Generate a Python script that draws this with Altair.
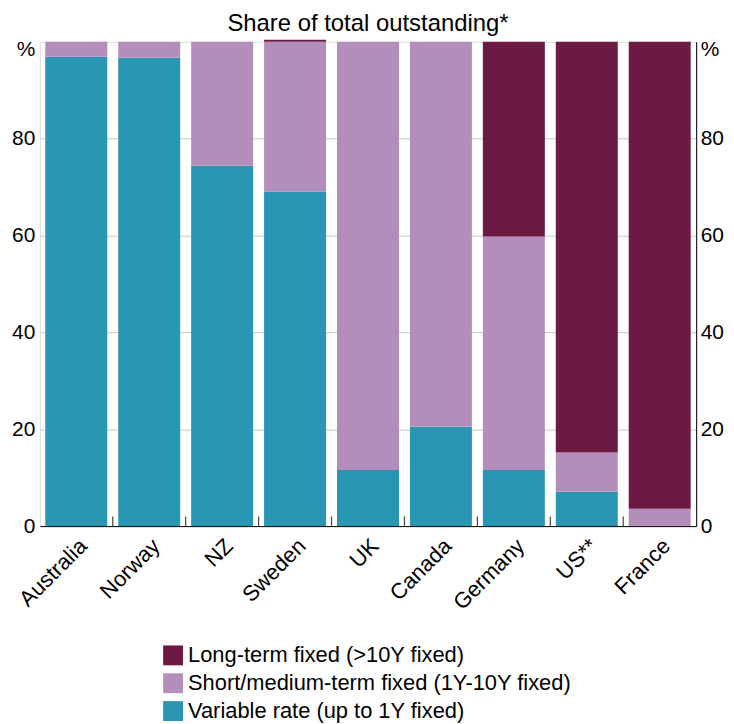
import altair as alt
import pandas as pd

countries = ["Australia", "Norway", "NZ", "Sweden", "UK", "Canada", "Germany", "US**", "France"]
variable_rate = [96.9, 96.7, 74.4, 69.1, 11.6, 20.5, 11.6, 7.1, 0.0]
short_medium = [3.1, 3.3, 25.6, 30.9, 88.4, 79.5, 48.2, 8.1, 3.6]
long_term = [0.0, 0.0, 0.0, 0.4, 0.0, 0.0, 40.2, 84.8, 96.4]
series = [
    "Long-term fixed (>10Y fixed)",
    "Short/medium-term fixed (1Y-10Y fixed)",
    "Variable rate (up to 1Y fixed)",
]
colors = ["#6C1A41", "#B48EBB", "#2A96B4"]
y_ticks = [0, 20, 40, 60, 80, 100]

rows = []
for i, c in enumerate(countries):
    for s, vals, o in [(series[2], variable_rate, 0), (series[1], short_medium, 1), (series[0], long_term, 2)]:
        rows.append({"country": c, "series": s, "value": vals[i], "ord": o})
df = pd.DataFrame(rows)

tick_df = pd.DataFrame({"country": countries[1:], "y0": [0] * 8, "y1": [2] * 8})

FONT = "Liberation Sans"
xscale = alt.Scale(domain=countries, paddingInner=0.15, paddingOuter=0.075)
yscale = alt.Scale(domain=[0, 100], nice=False)
label_expr = "datum.value == 100 ? '%' : datum.label"
label_off = {"condition": {"test": "datum.value == 100", "value": 8}, "value": 0}

bars = alt.Chart(df).mark_bar(clip=False).encode(
    x=alt.X("country:N", scale=xscale, sort=countries,
            axis=alt.Axis(title=None, orient="bottom", labelAngle=-45, ticks=False,
                          domain=True, domainColor="black", domainWidth=1, zindex=1,
                          labelFontSize=22, labelFont=FONT, labelColor="black",
                          labelPadding=9)),
    y=alt.Y("value:Q", stack="zero", scale=yscale,
            axis=alt.Axis(title=None, orient="left", values=y_ticks, grid=True,
                          gridColor="#c8c8c8", gridWidth=1,
                          gridOpacity={"condition": {"test": "datum.value == 0 || datum.value == 100", "value": 0}, "value": 1},
                          ticks=False, domain=False, labelExpr=label_expr,
                          labelOffset=label_off, labelFontSize=21, labelFont=FONT,
                          labelColor="black", labelPadding=5)),
    color=alt.Color("series:N", scale=alt.Scale(domain=series, range=colors),
                    legend=alt.Legend(title=None, orient="none", legendX=123, legendY=606,
                                      direction="vertical", symbolType="square",
                                      symbolSize=400, symbolStrokeWidth=0,
                                      symbolOpacity=1, labelFontSize=22, labelFont=FONT,
                                      labelColor="black", rowPadding=6, labelOffset=4,
                                      padding=0, labelLimit=600)),
    order=alt.Order("ord:Q", sort="ascending"),
)

ticks = alt.Chart(tick_df).mark_rule(color="#444444", strokeWidth=1.2, xOffset=-5.5).encode(
    x=alt.X("country:N", scale=xscale, sort=countries, bandPosition=0),
    y=alt.Y("y0:Q", scale=yscale,
            axis=alt.Axis(title=None, orient="right", values=y_ticks, grid=False,
                          ticks=False, domain=True, domainColor="black", domainWidth=1,
                          zindex=1, labelExpr=label_expr, labelOffset=label_off,
                          labelFontSize=21, labelFont=FONT, labelColor="black",
                          labelPadding=4)),
    y2="y1:Q",
)

chart = alt.layer(bars, ticks).resolve_axis(y="independent").properties(
    width=660,
    height=487,
    autosize=alt.AutoSizeParams(type="none"),
    padding={"left": 32, "top": 32, "right": 30, "bottom": 197},
    title=alt.TitleParams(text="Share of total outstanding*", fontSize=24, font=FONT,
                          fontWeight="normal", color="black", anchor="middle",
                          offset=3),
).configure_view(stroke="black", strokeWidth=1).configure(background="white")

chart.save("out.html", embed_options={"renderer": "svg", "actions": False})
